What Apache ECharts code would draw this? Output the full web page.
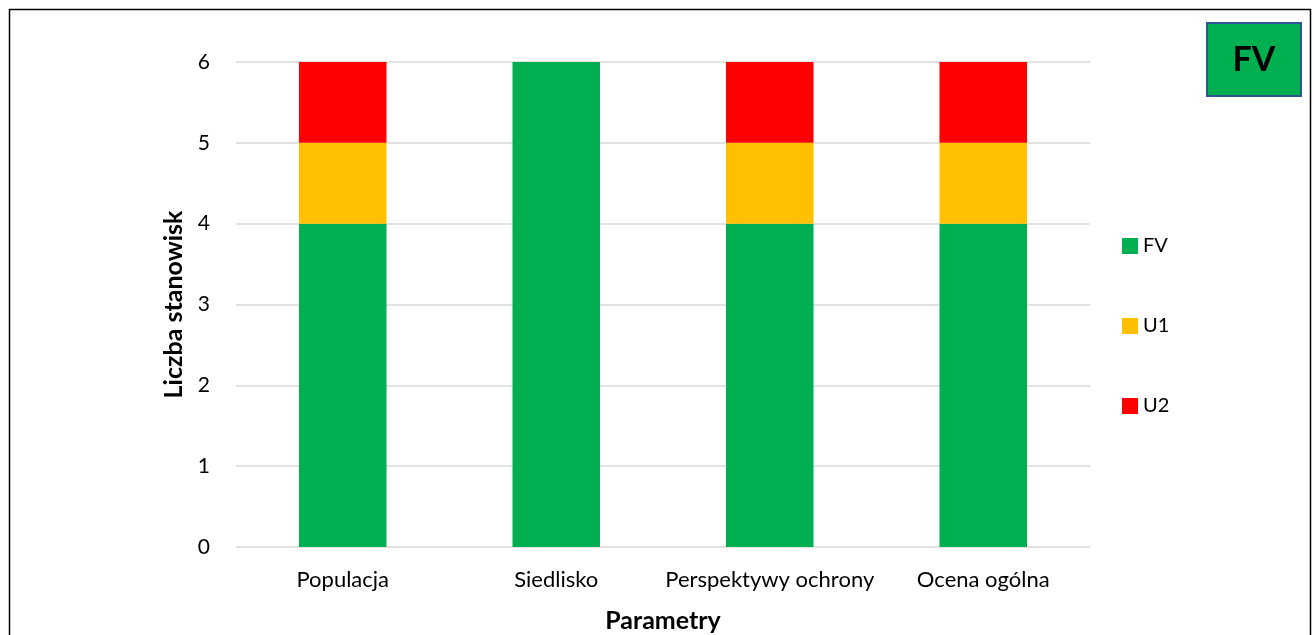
<!DOCTYPE html>
<html><head><meta charset="utf-8">
<script src="https://cdn.jsdelivr.net/npm/echarts@6/dist/echarts.min.js"></script>
<style>html,body{margin:0;padding:0;background:#fff}#c{width:1314px;height:635px}</style>
</head><body><div id="c"></div>
<script>
const categories = ['Populacja', 'Siedlisko', 'Perspektywy ochrony', 'Ocena ogólna'];
const seriesNames = ['FV', 'U1', 'U2'];
const fvValues = [4, 6, 4, 4];
const u1Values = [1, 0, 1, 1];
const u2Values = [1, 0, 1, 1];
const yTicks = [0, 1, 2, 3, 4, 5, 6];
const colors = ['#00B050', '#FFC000', '#FF0000'];
const badgeText = 'FV';
const font = 'Lato, "Open Sans", sans-serif';

const chart = echarts.init(document.getElementById('c'));
const vals = [fvValues, u1Values, u2Values];
chart.setOption({
  animation: false,
  textStyle: { fontFamily: font },
  grid: { left: 236, right: 224, top: 62, bottom: 88, containLabel: false, outerBoundsMode: 'none' },
  legend: {
    orient: 'vertical', left: 1117, top: 231, itemWidth: 16, itemHeight: 16, itemGap: 60,
    textStyle: { fontSize: 20, color: '#000', fontFamily: font },
    data: seriesNames, icon: 'rect', selectedMode: false
  },
  xAxis: {
    type: 'category', data: categories,
    name: 'Parametry', nameLocation: 'middle', nameGap: 61,
    nameTextStyle: { fontSize: 25, fontWeight: 'bold', color: '#000', fontFamily: font },
    axisLine: { show: false }, axisTick: { show: false },
    axisLabel: { fontSize: 22, color: '#000', margin: 22, interval: 0, fontFamily: font }
  },
  yAxis: {
    type: 'value', min: 0, max: 6, interval: 1,
    name: 'Liczba stanowisk', nameLocation: 'middle', nameGap: 49,
    nameTextStyle: { fontSize: 25, fontWeight: 'bold', color: '#000', fontFamily: font },
    axisLabel: { fontSize: 21, color: '#000', margin: 26, fontFamily: font,
      formatter: v => yTicks.includes(v) ? String(v) : '' },
    splitLine: { lineStyle: { color: '#D9D9D9', width: 1.5 } },
    axisLine: { show: false }, axisTick: { show: false }
  },
  series: seriesNames.map((n, i) => ({
    name: n, type: 'bar', stack: 'a', data: vals[i], barWidth: '41%',
    itemStyle: { color: colors[i] }
  })),
  graphic: [
    { type: 'rect', left: 7, top: 7, shape: { width: 1301, height: 700 },
      style: { fill: 'none', stroke: '#000', lineWidth: 1.5 }, z: 100 },
    { type: 'group', left: 1206, top: 22, z: 100, children: [
      { type: 'rect', shape: { width: 94, height: 73 },
        style: { fill: '#00B050', stroke: '#2F5597', lineWidth: 2 } },
      { type: 'text', x: 47, y: 37, style: { text: badgeText, fill: '#000',
        font: 'bold 34px ' + font, align: 'center', verticalAlign: 'middle' } }
    ] }
  ]
});
</script></body></html>
